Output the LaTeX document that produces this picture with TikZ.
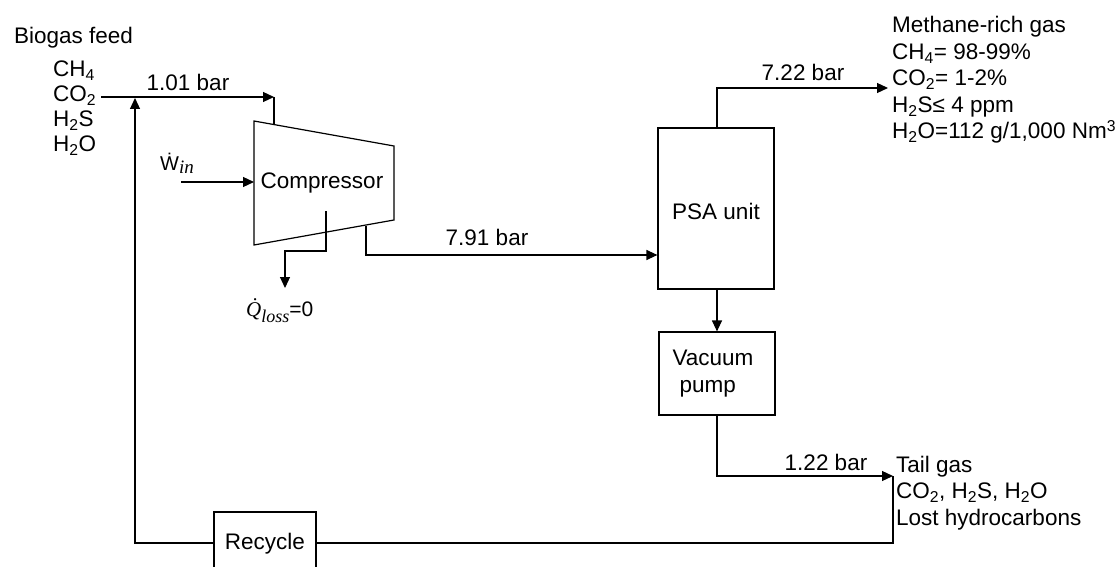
\documentclass[tikz,border=0pt]{standalone}
\usepackage{fontspec}
\setmainfont{Liberation Sans}
\newfontfamily\serifit{Liberation Serif}
\usetikzlibrary{arrows.meta}
\newcommand\lowsub[3]{\raisebox{-#1}{\fontsize{#2}{#2}\selectfont\serifit\itshape #3}}
\tikzset{
  ln/.style={line width=1.2pt, line join=miter},
  arr/.style={ln, -{Triangle[length=11pt,width=10pt]}},
  box/.style={draw, line width=1.2pt, inner sep=0pt},
  txt/.style={inner sep=0pt, font=\fontsize{22.5}{25}\selectfont},
  blk/.style={txt, align=left, anchor=west},
}
\begin{document}
\begin{tikzpicture}[x=1pt,y=-1pt]
\clip (0,0) rectangle (1117,567);
\fill[white] (0,0) rectangle (1117,567);

% compressor trapezoid
\coordinate (ctl) at (254,121);
\coordinate (ctr) at (394,146);
\coordinate (cbr) at (394,220);
\coordinate (cbl) at (254,245);
\draw[ln] (ctl) -- (ctr) -- (cbr) -- (cbl) -- cycle;
\node[txt] (comp) at (322,183) {Compressor};

% boxes
\node[box, minimum width=116pt, minimum height=161pt] (psa) at (716,208.5) {};
\node[txt] (psatxt) at (716,211) {PSA unit};
\node[box, minimum width=116pt, minimum height=83pt] (vac) at (717,373.5) {};
\node[txt, align=left, font=\fontsize{22.5}{27}\selectfont] (vactxt) at (713,373.5) {Vacuum\\\hspace*{7pt}pump};
\node[box, minimum width=102pt, minimum height=62pt] (rec) at (265,543) {};
\node[txt] (rectxt) at (265,544) {Recycle};

% feed text
\node[txt, anchor=west] (bf) at (14,38) {Biogas feed};
\node[blk, font=\fontsize{22.5}{25}\selectfont] (feed) at (53,108) {CH\textsubscript{4}\\CO\textsubscript{2}\\H\textsubscript{2}S\\H\textsubscript{2}O};

% product texts
\node[blk, font=\fontsize{22.5}{26.5}\selectfont] (meth) at (892,80) {Methane-rich gas\\CH\textsubscript{4}= 98-99\%\\CO\textsubscript{2}= 1-2\%\\H\textsubscript{2}S≤ 4 ppm\\H\textsubscript{2}O=112 g/1,000 Nm\textsuperscript{3}};
\node[blk, font=\fontsize{22.5}{26.5}\selectfont] (tail) at (896,493) {Tail gas\\CO\textsubscript{2}, H\textsubscript{2}S, H\textsubscript{2}O\\Lost hydrocarbons};

% labels
\node[txt] (l101) at (188,82) {1.01 bar};
\node[txt] (l791) at (487,237) {7.91 bar};
\node[txt] (l722) at (803,72) {7.22 bar};
\node[txt] (l122) at (826,462) {1.22 bar};
\node[inner sep=0pt, font=\fontsize{20}{21}\selectfont, anchor=base west] (win) at (160,171) {\.W\lowsub{3pt}{19}{in}};
\node[inner sep=0pt, font=\fontsize{21}{22}\selectfont, anchor=base west] (qloss) at (246,316) {{\serifit\itshape \.Q}\lowsub{6pt}{18}{loss}=0};

% coordinates
\coordinate (fin) at (101,97);
\coordinate (cin) at (274,97);
\coordinate (cintop) at (274,124.5);
\coordinate (ws) at (181,182);
\coordinate (we) at (254,182);
\coordinate (qa) at (326,211);
\coordinate (qb) at (326,251);
\coordinate (qc) at (285,251);
\coordinate (qd) at (285,288);
\coordinate (oa) at (366,226);
\coordinate (ob) at (366,255);
\coordinate (pa) at (717,88);
\coordinate (pb) at (888,88);
\coordinate (va) at (717,476);
\coordinate (vb) at (893,476);
\coordinate (tb) at (893,543);
\coordinate (ra) at (135,543);
\coordinate (rb) at (135,98);

% connectors
\draw[arr] (fin) -- (cin);
\draw[ln] (cin) -- (cintop);
\draw[arr] (ws) -- (we);
\draw[arr] (qa) -- (qb) -- (qc) -- (qd);
\draw[arr] (oa) -- (ob) -- (ob -| psa.west);
\draw[arr] (psa.north -| pa) -- (pa) -- (pb);
\draw[arr] (psa.south -| vac.north) -- (vac.north);
\draw[arr] (vac.south) -- (va) -- (vb);
\draw[ln] (vb) -- (tb) -- (rec.east);
\draw[arr] (rec.west) -- (ra) -- (rb);
\end{tikzpicture}
\end{document}
